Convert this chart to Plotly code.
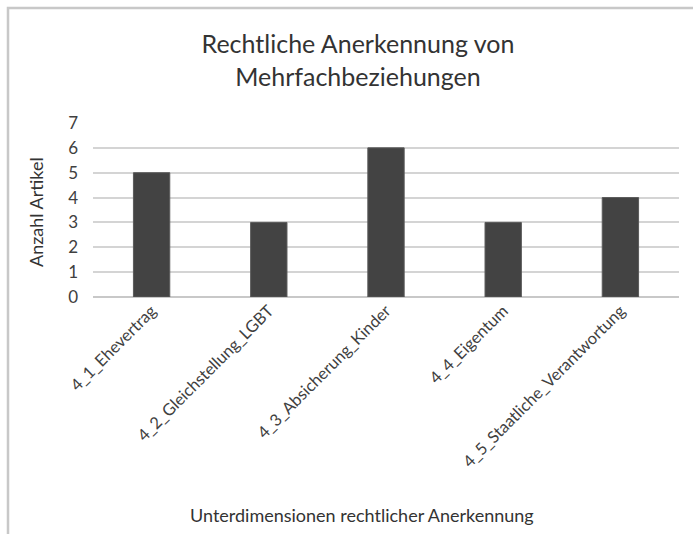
import plotly.graph_objects as go

categories = ["4_1_Ehevertrag", "4_2_Gleichstellung_LGBT", "4_3_Absicherung_Kinder",
              "4_4_Eigentum", "4_5_Staatliche_Verantwortung"]
values = [5, 3, 6, 3, 4]
y_ticks = [0, 1, 2, 3, 4, 5, 6, 7]

title_text = "Rechtliche Anerkennung von<br>Mehrfachbeziehungen"
x_title = "Unterdimensionen rechtlicher Anerkennung"
y_title = "Anzahl Artikel"

FONT = "Lato"
TXT = "#404040"

fig = go.Figure(go.Bar(
    x=categories, y=values,
    marker=dict(color="#434343", line=dict(color="#5a5a5a", width=1)),
))

W, H = 693, 534
L, R, T, B = 93, 14, 123, 237
pw = W - L - R
ph = H - T - B

def px_x(p):
    return (p - L) / pw

def px_y(p):
    return (H - B - p) / ph

fig.update_layout(
    width=W, height=H,
    margin=dict(l=L, r=R, t=T, b=B, autoexpand=False),
    paper_bgcolor="white", plot_bgcolor="white",
    bargap=0.69,
    showlegend=False,
    font=dict(family=FONT, color=TXT),
    title=dict(text=title_text, x=358 / W, xanchor="center", xref="container",
               y=1 - 53 / H, yanchor="top", yref="container",
               font=dict(size=25, family=FONT, color="#333333")),
    xaxis=dict(tickangle=-45, tickfont=dict(size=16.5, family=FONT, color=TXT),
               showgrid=False, showline=False, ticks="", zeroline=False),
    yaxis=dict(range=[0, 7], tickvals=y_ticks, tickfont=dict(size=17, family=FONT, color=TXT),
               showgrid=True, gridcolor="#d4d4d4", gridwidth=1.5,
               zeroline=True, zerolinecolor="#c8c8c8", zerolinewidth=1.5,
               showline=False, ticks="", ticklabelstandoff=14),
    shapes=[dict(type="rect", xref="paper", yref="paper",
                 x0=px_x(8), x1=px_x(760), y0=px_y(8), y1=px_y(600),
                 line=dict(color="#c8c8c8", width=2.5), fillcolor="rgba(0,0,0,0)",
                 layer="below")],
    annotations=[
        dict(text=x_title, xref="paper", yref="paper", x=px_x(362), y=px_y(515),
             xanchor="center", yanchor="middle", showarrow=False,
             font=dict(size=18, family=FONT, color="#333333")),
        dict(text=y_title, xref="paper", yref="paper", x=px_x(36), y=px_y(212),
             xanchor="center", yanchor="middle", showarrow=False, textangle=-90,
             font=dict(size=18, family=FONT, color="#333333")),
    ],
)

fig.write_html("out.html", config={"displayModeBar": False},
               post_script="document.body.style.margin='0';document.body.style.overflow='hidden';")
